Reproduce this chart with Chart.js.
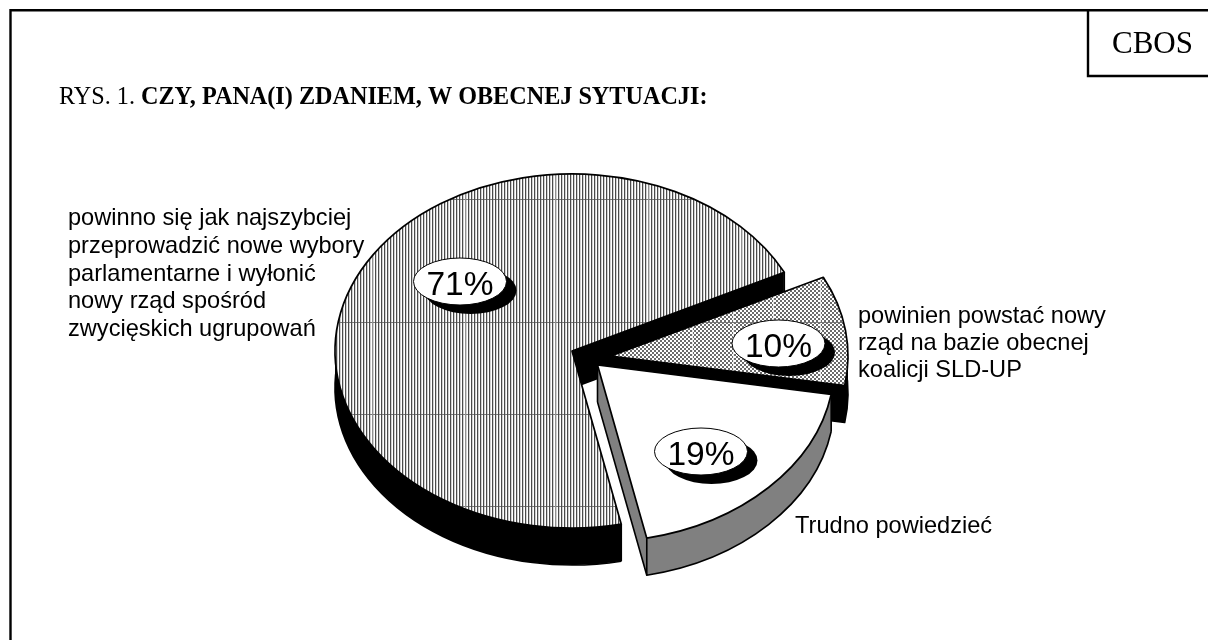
<!DOCTYPE html>
<html lang="pl">
<head>
<meta charset="utf-8">
<title>CBOS RYS. 1</title>
<script src="https://cdn.jsdelivr.net/npm/chart.js@4"></script>
<style>
html,body{margin:0;padding:0;background:#fff;overflow:hidden}
canvas{display:block}
</style>
</head>
<body>
<canvas id="c" width="1208" height="640"></canvas>
<script>
// ---- data ----
const categories = [
  "powinno się jak najszybciej przeprowadzić nowe wybory parlamentarne i wyłonić nowy rząd spośród zwycięskich ugrupowań",
  "powinien powstać nowy rząd na bazie obecnej koalicji SLD-UP",
  "Trudno powiedzieć"
];
const shares = [71, 10, 19];
const labelLines = [
  ["powinno się jak najszybciej","przeprowadzić nowe wybory","parlamentarne i wyłonić","nowy rząd spośród","zwycięskich ugrupowań"],
  ["powinien powstać nowy","rząd na bazie obecnej","koalicji SLD-UP"],
  ["Trudno powiedzieć"]
];
const titlePrefix = "RYS. 1. ";
const titleBold = "CZY, PANA(I) ZDANIEM, W OBECNEJ SYTUACJI:";
const sourceTag = "CBOS";

// ---- layout and style ----
const SQUASH = 0.747, DEPTH = 37, RADIUS = 237, ROTATION = 168, TITLE_SIZE = 24.2;
const explodeX = [0, 39, 25.5], explodeY = [0, 5, 14];
const sideColors = ["#000000", "#000000", "#808080"];
const badgeCentres = [[460, 281.5], [778.5, 343.5], [701, 451.5]];
const labelAnchors = [[68, 225, 27.8], [858, 323, 27], [795, 533, 0]];
const SANS = '"Liberation Sans", Arial, sans-serif';
const SERIF = '"Liberation Serif", "Times New Roman", serif';

function makeTile(paint) {
  const t = document.createElement('canvas');
  t.width = 1208; t.height = 640;
  paint(t.getContext('2d'));
  return t.getContext('2d').createPattern(t, 'repeat');
}
const stripeSeamsX = [372, 464, 556, 648, 740];
const seamsY = [199, 322, 414, 506];
const stripes = makeTile(g => {
  g.fillStyle = '#fff'; g.fillRect(0, 0, 1208, 640);
  for (let x = 0; x < 1208; x += 3) {
    const seam = stripeSeamsX.some(s => Math.abs(s - x) < 2);
    g.fillStyle = seam ? '#909090' : '#4a4a4a'; g.fillRect(x, 0, 1, 640);
    g.fillStyle = '#d0d0d0'; g.fillRect(x + 1, 0, 1, 640);
  }
  g.fillStyle = '#777';
  seamsY.forEach(y => { for (let x = 1; x < 1208; x += 3) g.fillRect(x, y, 2, 1); });
});
const checks = makeTile(g => {
  g.fillStyle = '#fff'; g.fillRect(0, 0, 1208, 640);
  g.fillStyle = '#6a6a6a';
  for (let y = 0; y < 640; y += 2) for (let x = 0; x < 1208; x += 2) {
    if (((x + y) / 2) % 2 === 0) g.fillRect(x, y, 2, 2);
  }
  g.fillStyle = '#e8e8e8';
  [692, 733, 773, 820].forEach(x => g.fillRect(x, 0, 1, 640));
  g.fillStyle = '#777';
  g.fillRect(0, 322, 1208, 1);
});
const faceFills = [stripes, checks, '#ffffff'];

const pie3d = {
  id: 'pie3d',
  beforeDraw(chart) {
    const c = chart.ctx;
    c.save();
    c.fillStyle = '#fff'; c.fillRect(0, 0, 1208, 640);
    c.strokeStyle = '#000'; c.lineWidth = 2.4;
    c.beginPath();
    c.moveTo(10.5, 640); c.lineTo(10.5, 10.2); c.lineTo(1208, 10.2);
    c.moveTo(1088, 10); c.lineTo(1088, 76); c.lineTo(1208, 76);
    c.stroke();
    c.fillStyle = '#000';
    c.textBaseline = 'alphabetic'; c.textAlign = 'left';
    c.font = '31px ' + SERIF;
    c.fillText(sourceTag, 1112, 53);
    c.font = TITLE_SIZE + 'px ' + SERIF;
    c.fillText(titlePrefix, 59, 104);
    const w = c.measureText(titlePrefix).width;
    c.font = 'bold ' + TITLE_SIZE + 'px ' + SERIF;
    c.fillText(titleBold, 59 + w, 104);
    c.restore();
  },
  beforeDatasetsDraw(chart) {
    const c = chart.ctx;
    const arcs = chart.getDatasetMeta(0).data;
    c.save();
    arcs.forEach((el, i) => {
      const p = el.getProps(['x', 'y', 'startAngle', 'endAngle', 'outerRadius']);
      const cx = p.x + explodeX[i], cy = p.y + explodeY[i];
      const rx = p.outerRadius, ry = rx * SQUASH;
      const sector = d => {
        c.beginPath();
        c.moveTo(cx, cy + d);
        c.ellipse(cx, cy + d, rx, ry, 0, p.startAngle, p.endAngle);
        c.closePath();
      };
      // side walls
      c.fillStyle = sideColors[i];
      for (let d = DEPTH; d >= 1; d--) { sector(d); c.fill(); }
      // wall outlines
      const sx = cx + rx * Math.cos(p.startAngle), sy = cy + ry * Math.sin(p.startAngle);
      const ex = cx + rx * Math.cos(p.endAngle), ey = cy + ry * Math.sin(p.endAngle);
      c.strokeStyle = '#000'; c.lineWidth = 1.6; c.lineJoin = 'round';
      c.beginPath();
      c.ellipse(cx, cy + DEPTH, rx, ry, 0, p.startAngle, p.endAngle);
      c.lineTo(cx, cy + DEPTH);
      c.moveTo(cx, cy); c.lineTo(cx, cy + DEPTH);
      c.moveTo(sx, sy); c.lineTo(sx, sy + DEPTH);
      c.moveTo(ex, ey); c.lineTo(ex, ey + DEPTH);
      c.stroke();
      // top face
      sector(0);
      c.fillStyle = el.options.backgroundColor;
      c.fill();
      c.strokeStyle = el.options.borderColor;
      c.lineWidth = el.options.borderWidth;
      c.stroke();
    });
    // percent badges
    shares.forEach((v, i) => {
      const [bx, by] = badgeCentres[i];
      c.fillStyle = '#000';
      c.beginPath(); c.ellipse(bx + 10.5, by + 9, 46, 23.5, 0, 0, Math.PI * 2); c.fill();
      c.fillStyle = '#fff'; c.strokeStyle = '#000'; c.lineWidth = 1;
      c.beginPath(); c.ellipse(bx, by, 46.5, 23.5, 0, 0, Math.PI * 2); c.fill(); c.stroke();
      c.fillStyle = '#000';
      c.font = '33.5px ' + SANS;
      c.textAlign = 'center'; c.textBaseline = 'alphabetic';
      c.fillText(v + '%', bx, by + 13.5);
    });
    // category labels
    c.font = '23.6px ' + SANS;
    c.textAlign = 'left'; c.fillStyle = '#000';
    labelLines.forEach((lines, i) => {
      const [lx, ly, lh] = labelAnchors[i];
      lines.forEach((t, k) => c.fillText(t, lx, ly + k * lh));
    });
    c.restore();
    return false;
  }
};

new Chart(document.getElementById('c'), {
  type: 'pie',
  data: {
    labels: categories,
    datasets: [{
      data: shares,
      backgroundColor: faceFills,
      borderColor: '#000000',
      borderWidth: 1.7
    }]
  },
  options: {
    responsive: false,
    animation: false,
    rotation: ROTATION,
    radius: RADIUS,
    layout: { padding: { left: 0, right: 64, top: 62, bottom: 0 } },
    plugins: { legend: { display: false }, tooltip: { enabled: false } }
  },
  plugins: [pie3d]
});
</script>
</body>
</html>
